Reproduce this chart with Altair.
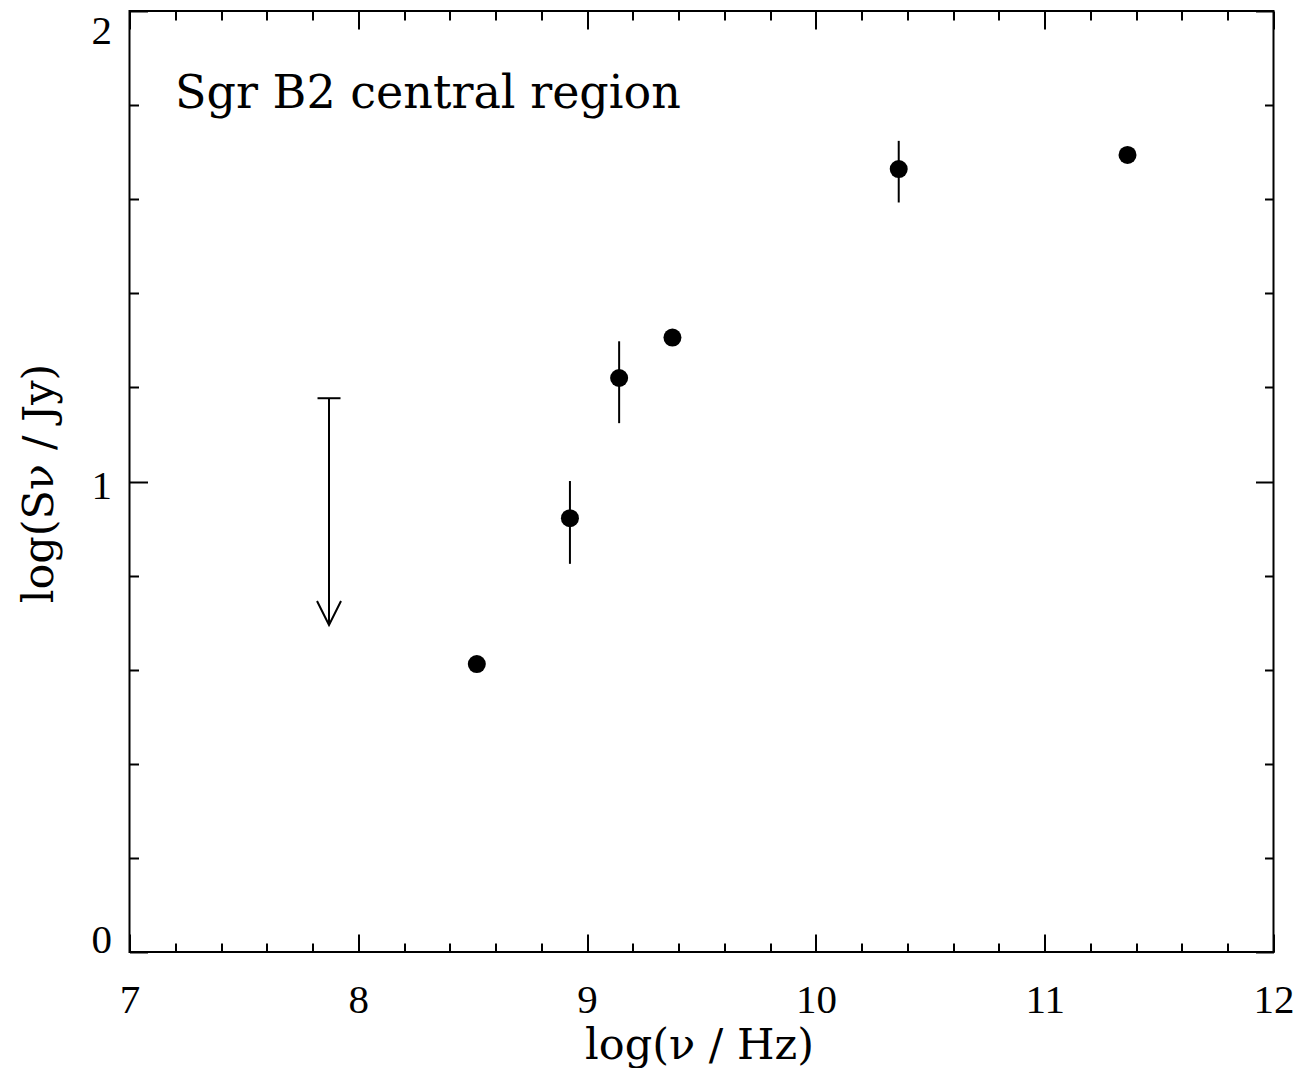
import altair as alt
import pandas as pd

# ---- data ----
x_points = [8.518, 8.925, 9.140, 9.373, 10.362, 11.362]
y_points = [0.612, 0.922, 1.220, 1.306, 1.664, 1.694]

x_err = [8.925, 9.140, 10.362]
y_err_lo = [0.825, 1.124, 1.593]
y_err_hi = [1.001, 1.298, 1.724]

x_limit = [7.872]
y_limit_top = [1.177]
y_limit_tip = [0.695]

x_major = [7, 8, 9, 10, 11, 12]
x_minor = [7.2, 7.4, 7.6, 7.8, 8.2, 8.4, 8.6, 8.8, 9.2, 9.4, 9.6, 9.8,
           10.2, 10.4, 10.6, 10.8, 11.2, 11.4, 11.6, 11.8]
y_major = [0, 1, 2]
y_minor = [0.2, 0.4, 0.6, 0.8, 1.2, 1.4, 1.6, 1.8]

label_text = ["Sgr B2 central region"]
label_x = [7.199]
label_y = [1.794]

x_title = "log(ν / Hz)"
y_title = "log(Sν / Jy)"

FONT = "DejaVu Serif"
LABEL_FONT = "Liberation Serif"
LABEL_SIZE = 41
TITLE_SIZE = 43

pts = pd.DataFrame({"x": x_points, "y": y_points})
err = pd.DataFrame({"x": x_err, "lo": y_err_lo, "hi": y_err_hi})
lim = pd.DataFrame({"x": x_limit, "top": y_limit_top, "tip": y_limit_tip})
lab = pd.DataFrame({"x": label_x, "y": label_y, "t": label_text})

xs = alt.Scale(domain=[7, 12], nice=False, zero=False)
ys = alt.Scale(domain=[0, 2], nice=False, zero=False)


def tick_axis(orient, values, size):
    return alt.Axis(orient=orient, values=values, labels=False, domain=False,
                    grid=False, ticks=True, tickSize={"expr": f"-{size}"},
                    tickWidth=2, tickColor="black", title=None)


def y_label_axis(values, baseline, offset=0, with_title=False):
    kw = dict(orient="left", values=values, format="d", ticks=False,
              domain=False, grid=False, labelPadding=18, labelFontSize=LABEL_SIZE,
              labelFont=LABEL_FONT, labelColor="black", labelAlign="right",
              labelBaseline=baseline, labelFlush=False, labelOverlap=False,
              labelOffset=offset)
    if with_title:
        kw.update(title=y_title, titleFont=FONT, titleFontSize=TITLE_SIZE,
                  titleFontWeight="normal", titleColor="black",
                  titleX=-77.5, titleY=472, titleBaseline="alphabetic",
                  titleAlign="center")
    else:
        kw.update(title=None)
    return alt.Axis(**kw)


x_label_axis = alt.Axis(orient="bottom", values=x_major, format="d", ticks=False,
                        domain=False, grid=False, labelPadding=28.5,
                        labelFontSize=LABEL_SIZE, labelFont=LABEL_FONT,
                        labelColor="black", labelFlush=False, labelOverlap=False,
                        title=x_title, titleFont=FONT, titleFontSize=TITLE_SIZE,
                        titleFontWeight="normal", titleColor="black",
                        titleX=569.5, titleY=106, titleBaseline="alphabetic",
                        titleAlign="center")

points = alt.Chart(pts).mark_circle(size=324, color="black", opacity=1).encode(
    x=alt.X("x:Q", scale=xs, axis=x_label_axis),
    y=alt.Y("y:Q", scale=ys, axis=y_label_axis([0], "alphabetic", 0, True)),
)

errors = alt.Chart(err).mark_rule(color="black", strokeWidth=2).encode(
    x=alt.X("x:Q", scale=xs, axis=tick_axis("bottom", x_major, 18)),
    y=alt.Y("lo:Q", scale=ys, axis=tick_axis("left", y_major, 18)),
    y2="hi:Q",
)

limit_line = alt.Chart(lim).mark_rule(color="black", strokeWidth=2).encode(
    x=alt.X("x:Q", scale=xs, axis=tick_axis("bottom", x_minor, 9)),
    y=alt.Y("top:Q", scale=ys, axis=tick_axis("left", y_minor, 9)),
    y2="tip:Q",
)

limit_cap = alt.Chart(lim).mark_point(
    shape="M-1,0L1,0", size=529, filled=False, color="black", strokeWidth=2, opacity=1
).encode(
    x=alt.X("x:Q", scale=xs, axis=tick_axis("top", x_major, 18)),
    y=alt.Y("top:Q", scale=ys, axis=tick_axis("right", y_major, 18)),
)

limit_head = alt.Chart(lim).mark_point(
    shape="M-1,-2L0,0L1,-2", size=576, filled=False, color="black", strokeWidth=2, opacity=1
).encode(
    x=alt.X("x:Q", scale=xs, axis=tick_axis("top", x_minor, 9)),
    y=alt.Y("tip:Q", scale=ys, axis=tick_axis("right", y_minor, 9)),
)

label = alt.Chart(lab).mark_text(
    align="left", baseline="alphabetic", font=FONT, fontSize=46, color="black"
).encode(
    x=alt.X("x:Q", scale=xs, axis=None),
    y=alt.Y("y:Q", scale=ys, axis=y_label_axis([1], "middle", 5)),
    text="t:N",
)

# carrier layer for the top y label (draws nothing visible)
top_label_carrier = alt.Chart(pts).mark_circle(size=324, opacity=0).encode(
    x=alt.X("x:Q", scale=xs, axis=None),
    y=alt.Y("y:Q", scale=ys, axis=y_label_axis([2], "top", 0)),
)

chart = alt.layer(points, errors, limit_line, limit_cap, limit_head, label,
                  top_label_carrier).resolve_axis(
    x="independent", y="independent"
).properties(
    width=1144, height=941,
    padding={"left": 121.5, "top": 3, "right": 20.5, "bottom": 116},
    autosize=alt.AutoSizeParams(type="none"),
    background="white",
).configure_view(stroke="black", strokeWidth=2)

chart.save("out.html", embed_options={"renderer": "svg", "actions": False})
